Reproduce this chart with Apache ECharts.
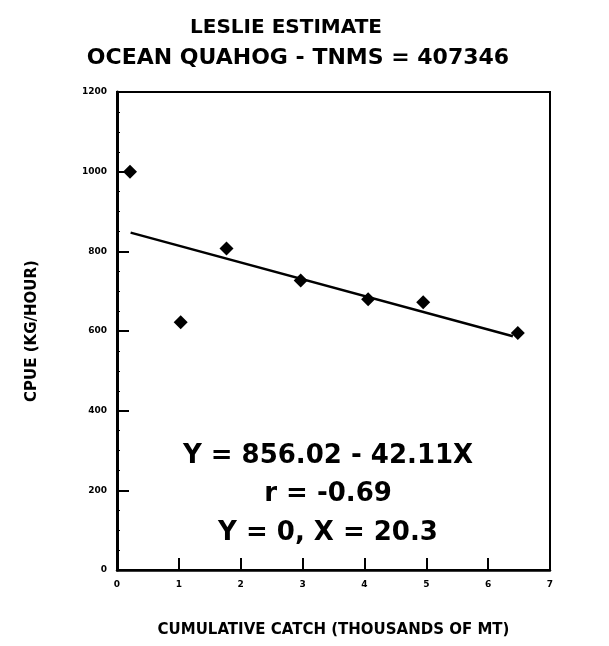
<!DOCTYPE html>
<html>
<head>
<meta charset="utf-8">
<script src="https://cdn.jsdelivr.net/npm/echarts@6/dist/echarts.min.js"></script>
<style>
  html, body { margin: 0; padding: 0; background: #fff; }
  #chart { width: 609px; height: 646px; }
</style>
</head>
<body>
<div id="chart"></div>
<script>
// observed catch / cpue points
var catchX = [0.21, 1.03, 1.77, 2.97, 4.06, 4.95, 6.48];
var cpueY = [1000, 622, 807, 727, 680, 672, 595];
// fitted line endpoints
var fitX = [0.22, 6.4];
var fitY = [847, 587];
var xTicks = [0, 1, 2, 3, 4, 5, 6, 7];
var yTicks = [0, 200, 400, 600, 800, 1000, 1200];
var notes = ['Y = 856.02 - 42.11X', 'r = -0.69', 'Y = 0, X = 20.3'];

var font = 'DejaVu Sans';
var chart = echarts.init(document.getElementById('chart'));

chart.setOption({
  backgroundColor: '#fff',
  animation: false,
  title: [
    {
      text: 'LESLIE ESTIMATE',
      left: 281, top: 13, textAlign: 'center',
      textStyle: { fontFamily: font, fontWeight: 'bold', fontSize: 20, color: '#000' }
    },
    {
      text: 'OCEAN QUAHOG - TNMS = 407346',
      left: 293, top: 42, textAlign: 'center',
      textStyle: { fontFamily: font, fontWeight: 'bold', fontSize: 22, color: '#000' }
    }
  ],
  grid: {
    left: 117, right: 59, top: 92, bottom: 76,
    show: true, borderColor: '#000', borderWidth: 2
  },
  xAxis: {
    type: 'value',
    min: xTicks[0], max: xTicks[xTicks.length - 1], interval: 1,
    name: 'CUMULATIVE CATCH (THOUSANDS OF MT)',
    nameLocation: 'middle', nameGap: 53,
    nameTextStyle: { fontFamily: font, fontWeight: 'bold', fontSize: 15, color: '#000' },
    axisLine: { lineStyle: { color: '#000', width: 2.5 } },
    axisTick: { inside: true, length: 12, lineStyle: { color: '#000', width: 2 } },
    axisLabel: { fontFamily: font, fontWeight: 'bold', fontSize: 9, color: '#000', margin: 10 },
    splitLine: { show: false }
  },
  yAxis: {
    type: 'value',
    min: yTicks[0], max: yTicks[yTicks.length - 1], interval: 200,
    name: 'CPUE (KG/HOUR)',
    nameLocation: 'middle', nameGap: 77, nameRotate: 90,
    nameTextStyle: { fontFamily: font, fontWeight: 'bold', fontSize: 15, color: '#000' },
    axisLine: { lineStyle: { color: '#000', width: 3 } },
    axisTick: { inside: true, length: 12, lineStyle: { color: '#000', width: 2 } },
    minorTick: { show: true, splitNumber: 4, length: 3, lineStyle: { color: '#000', width: 1 } },
    axisLabel: {
      fontFamily: font, fontWeight: 'bold', fontSize: 9, color: '#000', margin: 10,
      formatter: function (v) { return String(v); }
    },
    splitLine: { show: false }
  },
  graphic: notes.map(function (t, i) {
    return {
      type: 'text',
      x: 328, y: 456 + i * 38.5,
      style: {
        text: t, textAlign: 'center', textVerticalAlign: 'middle',
        font: 'bold 26px "DejaVu Sans"', fill: '#000'
      }
    };
  }),
  series: [
    {
      type: 'line',
      data: fitX.map(function (x, i) { return [x, fitY[i]]; }),
      symbol: 'none',
      lineStyle: { color: '#000', width: 2.5 },
      z: 2
    },
    {
      type: 'scatter',
      data: catchX.map(function (x, i) { return [x, cpueY[i]]; }),
      symbol: 'diamond',
      symbolSize: 14,
      itemStyle: { color: '#000', opacity: 1 },
      z: 3
    }
  ]
});
</script>
</body>
</html>
